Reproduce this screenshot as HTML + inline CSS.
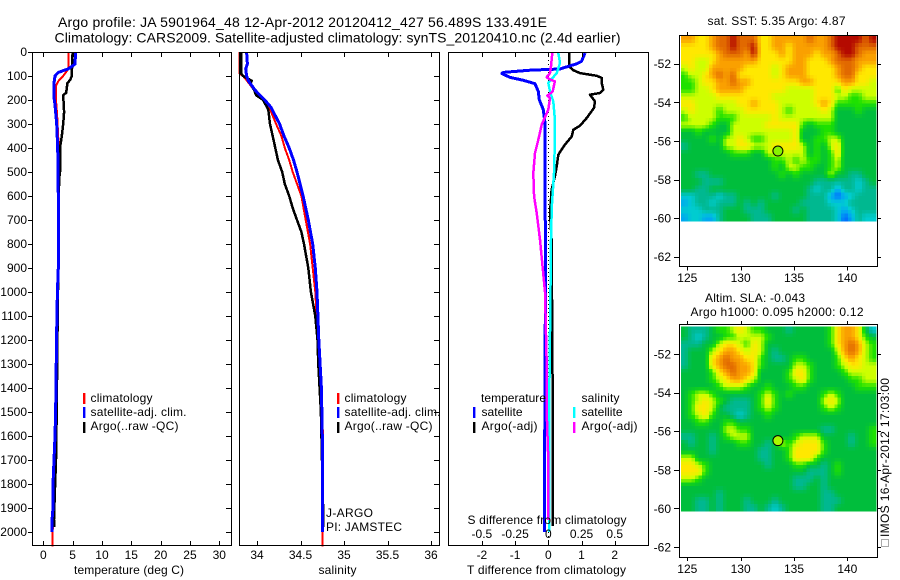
<!DOCTYPE html>
<html lang="en">
<head>
<meta charset="utf-8">
<title>Argo profile</title>
<style>
html,body{margin:0;padding:0;background:#fff;}
svg{display:block;}
text{font-family:"Liberation Sans",sans-serif;font-size:12px;fill:#000;}
.t14{font-size:14px;}
</style>
</head>
<body>
<svg id="chart" xmlns="http://www.w3.org/2000/svg" width="900" height="580" viewBox="0 0 900 580">
<text class="t14" x="58" y="27" textLength="489">Argo profile: JA 5901964_48 12-Apr-2012 20120412_427 56.489S 133.491E</text>
<text class="t14" x="54.5" y="42.5" textLength="566">Climatology: CARS2009. Satellite-adjusted climatology: synTS_20120410.nc (2.4d earlier)</text>
<g id="plots"></g>

<text x="74" y="574" textLength="110">temperature (deg C)</text>
<text x="318.5" y="574" textLength="38">salinity</text>
<text x="467" y="574" textLength="159">T difference from climatology</text>
<text x="467.5" y="524" textLength="159">S difference from climatology</text>

<g>
<rect x="83" y="393" width="2.4" height="11" fill="#f00"/>
<text x="90.5" y="402" textLength="62">climatology</text>
<rect x="83" y="407" width="2.4" height="11" fill="#00f"/>
<text x="90.5" y="416" textLength="96">satellite-adj. clim.</text>
<rect x="83" y="422" width="2.4" height="11" fill="#000"/>
<text x="90.5" y="430" textLength="88">Argo(..raw -QC)</text>
</g>
<g>
<rect x="337" y="393" width="2.4" height="11" fill="#f00"/>
<text x="344.5" y="402" textLength="62">climatology</text>
<rect x="337" y="407" width="2.4" height="11" fill="#00f"/>
<text x="344.5" y="416" textLength="96">satellite-adj. clim.</text>
<rect x="337" y="422" width="2.4" height="11" fill="#000"/>
<text x="344.5" y="430" textLength="88">Argo(..raw -QC)</text>
<text x="326" y="517" textLength="47">J-ARGO</text>
<text x="326" y="531" textLength="76">PI: JAMSTEC</text>
</g>
<g>
<text x="481" y="402" textLength="65">temperature</text>
<rect x="473" y="407" width="2.4" height="11" fill="#00f"/>
<text x="481.5" y="416" textLength="41">satellite</text>
<rect x="473" y="422" width="2.4" height="11" fill="#000"/>
<text x="481.5" y="430" textLength="56">Argo(-adj)</text>
<text x="581.5" y="402" textLength="38">salinity</text>
<rect x="573" y="407" width="2.4" height="11" fill="#0ff"/>
<text x="581.5" y="416" textLength="41">satellite</text>
<rect x="573" y="422" width="2.4" height="11" fill="#f0f"/>
<text x="581.5" y="430" textLength="56">Argo(-adj)</text>
</g>

<text x="707.5" y="25" textLength="138">sat. SST: 5.35  Argo: 4.87</text>
<text x="705" y="302" textLength="100">Altim. SLA: -0.043</text>
<text x="690.5" y="316" textLength="173">Argo h1000: 0.095 h2000: 0.12</text>
<rect x="881.5" y="539.5" width="7" height="7" fill="none" stroke="#555" stroke-width="1" stroke-dasharray="1 1" shape-rendering="crispEdges"/>
<text transform="translate(889,537) rotate(-90)" x="0" y="0" textLength="159">IMOS 16-Apr-2012 17:03:00</text>
</svg>

<script>
// ---- axis tick data ----
const depthTicks = [0,100,200,300,400,500,600,700,800,900,1000,1100,1200,1300,1400,1500,1600,1700,1800,1900,2000];
const tempTicks = [0,5,10,15,20,25,30];
const salTicks = [34,34.5,35,35.5,36];
const salTickLabels = ['34','34.5','35','35.5','36'];
const tDiffTicks = [-2,-1,0,1,2];
const sDiffTicks = [-0.5,-0.25,0,0.25,0.5];
const sDiffTickLabels = ['-0.5','-0.25','0','0.25','0.5'];
const lonTicks = [125,130,135,140];
const latTicks = [-52,-54,-56,-58,-60,-62];

// ---- temperature profiles ----
const tempClimDepth = [0,70,100,120,140,200,260,360,600,1000,1400,1700,2000,2060];
const tempClim = [4.27,4.27,3.4,2.6,2.16,2.16,2.35,2.56,2.6,2.45,2.15,1.85,1.6,1.6];
const tempSatDepth = [0,50,70,85,100,130,190,220,300,400,600,900,1000,1200,1400,1500,1600,1700,1800,1900,1950,2000];
const tempSat = [5.5,5.4,4.3,2.56,2.0,1.83,1.83,2.0,2.28,2.45,2.56,2.56,2.4,2.25,2.16,2.1,2.0,1.82,1.65,1.65,1.48,1.48];
const tempArgoDepth = [0,70,100,115,130,170,180,250,300,350,400,500,520,600,1000,1200,1500,1700,1850,1950,1980];
const tempArgo = [5.0,4.9,4.85,4.6,4.1,3.9,3.4,3.55,3.4,3.15,2.85,2.85,2.75,2.6,2.5,2.4,2.28,2.16,1.94,1.82,1.82];

// ---- salinity profiles ----
const salClimDepth = [0,90,100,120,160,200,230,300,350,400,450,500,600,700,800,900,1000,1200,1400,1600,1700,2000,2060];
const salClim = [33.80,33.80,33.84,33.885,33.97,34.07,34.14,34.22,34.28,34.32,34.37,34.41,34.51,34.56,34.61,34.64,34.67,34.70,34.73,34.76,34.76,34.755,34.75];
const salSatDepth = [0,50,70,100,120,160,200,230,300,350,400,450,500,600,700,800,900,1000,1200,1400,1600,2000];
const salSat = [33.88,33.89,33.87,33.88,33.90,33.98,34.09,34.16,34.26,34.31,34.37,34.42,34.46,34.53,34.59,34.64,34.67,34.69,34.71,34.74,34.75,34.75];
const salArgoDepth = [0,90,100,120,130,160,180,200,240,300,350,400,450,500,550,600,650,700,750,800,900,1000,1100,1200,1300,1400,1500,1900,1980];
const salArgo = [33.82,33.82,33.84,33.94,33.92,33.97,33.99,34.07,34.13,34.15,34.18,34.21,34.24,34.29,34.32,34.37,34.41,34.46,34.51,34.54,34.59,34.62,34.67,34.695,34.705,34.72,34.735,34.76,34.76];

// ---- difference profiles ----
const diffTSatDepth = [4,39,49,60,71,76,85,90,106,118,132,164,199,240,296,365,505,644,782,1400,1900,2000];
const diffTSat = [1.105,1.0,0.855,0.60,0.35,-0.55,-1.355,-1.40,-1.15,-0.75,-0.40,-0.30,-0.27,-0.15,-0.10,-0.10,-0.10,-0.10,-0.08,-0.10,-0.12,-0.12];
const diffTArgoDepth = [4,60,76,88,99,108,129,157,171,178,206,233,275,307,324,352,386,428,477,518,574,671,782,1400,1975];
const diffTArgo = [0.623,0.623,0.753,0.955,1.457,1.607,1.607,1.657,1.557,1.256,1.406,1.376,1.157,0.955,0.753,0.705,0.503,0.30,0.253,0.20,0.10,0.05,0.10,0.13,0.13];
const diffSSatDepth = [4,46,88,129,164,206,282,365,505,644,782,1400,2000];
const diffSSat = [0.075,0.088,0.063,0,0.013,0.038,0.05,0.05,0.043,0.026,0.02,0.008,0.008];
const diffSArgoDepth = [4,60,88,105,115,122,164,182,192,240,303,366,421,505,602,671,782,1000,1300,1500,1700,1950];
const diffSArgo = [0.03,0.02,0.013,-0.012,0.013,0.05,0.033,-0.007,0.013,0,-0.05,-0.075,-0.10,-0.113,-0.107,-0.087,-0.0625,-0.025,-0.012,-0.012,0,0];

// ---- map data: rows run north to south, columns west to east ----
const sstLevels = [
[8,8,7,7,8,9,9,10,9,9,9,7,7,8,8,8,8,8,9,8,8,9,10,10,10,10,9,10],
[7,7,7,7,8,9,9,10,9,9,10,7,7,8,8,7,8,8,8,8,8,9,10,10,10,9,9,9],
[7,7,7,7,7,8,9,9,9,8,10,7,7,7,8,7,8,8,8,7,8,8,9,10,10,9,8,8],
[7,7,6,6,7,8,8,8,8,8,8,7,7,7,7,7,8,8,7,7,7,8,9,9,9,8,8,8],
[6,7,6,6,8,8,8,8,8,7,7,7,7,6,7,8,8,8,7,7,7,7,8,9,9,8,7,7],
[5,6,6,7,8,9,8,9,7,7,7,7,7,6,7,8,8,8,7,7,7,7,8,9,9,7,7,7],
[5,5,6,7,7,8,8,9,8,8,7,7,7,7,7,7,7,8,8,7,7,7,7,8,8,7,7,6],
[5,5,6,6,7,8,8,8,8,7,7,7,7,7,7,6,6,6,6,7,7,7,5,7,6,6,6,6],
[6,6,6,6,6,7,7,7,7,7,7,7,7,6,6,6,6,6,6,7,7,7,6,6,5,5,6,6],
[7,7,6,6,6,6,6,6,7,7,8,7,7,7,6,6,6,6,6,7,8,7,5,5,5,5,5,5],
[6,7,6,6,6,5,6,6,6,7,7,7,7,7,6,5,6,6,6,6,7,6,4,4,4,5,4,4],
[5,6,6,6,6,5,5,5,6,6,6,6,6,7,6,6,6,6,6,6,6,6,4,4,4,4,4,4],
[6,6,6,6,5,4,4,6,6,6,6,6,7,7,7,7,7,5,4,5,5,5,4,4,4,4,4,4],
[4,4,5,4,4,4,4,6,6,6,6,6,6,6,6,6,7,4,4,4,5,5,4,4,4,4,4,4],
[4,4,4,4,5,4,6,6,7,6,5,5,6,6,6,6,7,4,4,5,5,6,6,4,4,4,4,4],
[3,4,4,4,4,4,6,6,7,7,6,6,6,7,7,7,7,6,4,5,4,6,7,4,4,4,4,4],
[4,4,4,4,4,4,4,5,5,5,4,4,6,6,6,6,6,6,4,5,4,5,7,4,4,4,4,4],
[4,4,4,4,4,4,4,4,4,4,4,4,4,5,5,6,5,6,5,5,4,5,6,4,4,4,4,4],
[4,4,4,4,4,4,4,4,4,4,4,4,4,5,4,6,6,5,5,4,4,5,6,4,4,4,4,4],
[4,4,3,3,4,4,4,4,4,4,4,4,4,4,5,4,5,4,4,4,4,6,4,4,3,3,4,4],
[4,4,4,3,3,3,4,4,4,4,4,4,4,4,4,4,4,4,4,3,3,3,3,3,3,2,3,4],
[4,4,3,3,4,4,4,4,4,4,4,4,4,4,4,4,4,4,3,2,3,3,1,3,3,2,3,3],
[2,2,3,3,3,2,3,3,4,4,4,4,4,3,4,4,4,4,3,3,3,1,0,1,2,3,3,3],
[1,2,3,3,2,3,3,3,4,3,4,3,4,4,4,4,4,3,3,3,3,2,2,2,3,3,3,3],
[2,2,2,3,3,3,4,4,4,3,3,3,4,4,4,4,3,4,3,3,3,3,2,1,2,3,3,3],
[1,2,2,1,1,3,4,4,4,4,3,3,3,4,4,4,4,4,3,3,3,3,2,0,1,3,2,2]
];
const slaLevels = [
[4,3,3,3,4,5,5,6,7,6,5,5,4,4,4,3,4,4,4,4,4,5,7,8,8,7,4,2],
[4,3,2,3,4,4,5,5,6,6,6,6,5,4,4,4,4,4,4,4,4,5,7,8,8,7,5,4],
[3,3,3,4,4,6,7,7,6,5,7,6,4,4,4,4,4,4,4,4,4,5,7,8,9,8,6,5],
[3,4,4,4,6,7,8,8,7,6,7,6,4,3,4,4,4,4,4,4,4,4,6,8,9,8,6,5],
[3,4,4,4,7,8,9,8,8,7,7,5,4,3,3,4,5,5,4,4,4,4,5,7,8,7,6,5],
[3,4,4,4,7,8,9,9,8,8,7,5,4,4,4,4,6,6,5,4,4,4,5,6,7,7,6,6],
[4,4,4,4,5,7,8,9,8,8,7,4,4,4,4,5,7,7,5,4,4,4,4,5,6,6,6,6],
[4,4,4,4,5,6,7,8,8,7,6,4,4,4,4,5,6,7,5,4,4,4,4,4,5,5,6,6],
[4,4,4,4,4,5,6,6,6,5,4,4,5,4,4,4,5,5,4,4,4,4,4,4,4,5,5,5],
[4,5,6,6,5,4,4,4,4,4,4,5,6,5,4,5,4,4,4,4,5,6,5,4,4,4,4,4],
[4,5,6,7,6,5,4,3,3,3,4,5,7,5,4,4,4,4,4,4,6,7,6,4,4,4,4,4],
[4,5,7,7,6,4,3,3,3,3,4,5,6,5,4,4,4,4,4,4,5,6,5,4,4,4,4,4],
[4,5,6,7,5,4,4,3,2,3,4,4,5,4,4,4,4,4,4,4,4,4,4,4,4,4,4,4],
[4,4,5,5,4,4,5,5,4,4,4,4,4,4,4,4,4,4,4,4,4,4,4,4,4,4,4,4],
[4,4,4,4,4,4,6,6,5,5,4,4,4,4,4,4,4,4,4,4,3,3,4,4,4,4,4,5],
[3,3,4,4,3,4,5,6,6,6,4,4,4,4,4,4,5,6,6,6,4,4,4,4,3,4,4,5],
[4,3,4,4,3,4,4,4,5,5,4,4,3,4,6,5,6,7,7,7,5,4,4,4,3,4,4,5],
[4,4,4,4,3,4,4,4,4,4,4,3,3,4,4,5,7,7,7,7,5,4,4,4,4,4,4,4],
[6,6,4,4,4,4,4,4,4,4,4,3,3,4,4,5,7,7,7,5,4,4,4,4,4,4,4,4],
[7,7,6,5,4,4,4,4,4,4,4,4,3,4,4,4,5,5,4,4,3,4,5,4,4,4,4,4],
[7,7,7,5,4,4,4,4,4,4,4,4,4,4,4,4,4,4,3,3,3,4,5,4,4,4,4,4],
[6,6,5,4,4,4,4,4,4,4,4,4,4,4,4,4,3,3,3,4,3,4,4,4,4,4,4,4],
[4,4,4,4,4,4,4,4,4,4,4,4,4,4,4,4,3,3,4,4,3,4,4,4,4,4,4,4],
[4,4,4,4,4,3,4,4,4,4,4,4,4,4,4,4,4,4,4,4,3,3,4,4,4,4,4,4],
[4,4,3,3,4,3,4,4,4,3,4,4,4,3,4,4,4,4,4,4,3,3,3,4,4,4,4,4],
[4,4,3,3,4,3,4,4,4,3,3,4,3,2,3,4,4,4,4,4,3,3,4,4,4,4,4,4]
];
const profileLon = 133.491;
const profileLat = -56.489;
const sstMarkerLevel = 5.6;
const slaMarkerLevel = 5.8;

const NS = 'http://www.w3.org/2000/svg';
const root = document.getElementById('plots');
function add(tag, attrs, text) {
  const el = document.createElementNS(NS, tag);
  for (const k in attrs) el.setAttribute(k, attrs[k]);
  if (text !== undefined) el.textContent = text;
  root.appendChild(el);
  return el;
}

// ---- axis functions ----
const yDepth = d => 52 + 0.24 * d;
const xTemp = v => 43.3 + 5.867 * v;
const xSal = v => 257 + 87 * (v - 34);
const xDiffT = v => 548.3 + 33.2 * v;
const xDiffS = v => 548.3 + 132.8 * v;
const xLon = v => 687.3 + 10.67 * (v - 125);
const yLat1 = v => 63.7 + 19.3 * (-52 - v);
const yLat2 = v => 354 + 19.3 * (-52 - v);

function colourFor(level) {
  const stops = [[0,96,255],[0,168,240],[0,204,208],[0,184,144],[0,190,60],[30,225,0],[205,255,0],[255,232,0],[250,160,0],[225,105,0],[180,10,0]];
  const l = Math.max(0, Math.min(10, level));
  const i = Math.min(9, Math.floor(l));
  const f = l - i;
  const c = [0,1,2].map(k => Math.round(stops[i][k] + (stops[i + 1][k] - stops[i][k]) * f));
  return 'rgb(' + c.join(',') + ')';
}

function frame(x, y, w, h, name) {
  const el = add('rect', {x: x, y: y, width: w, height: h, fill: 'none', stroke: '#000', 'stroke-width': 1, 'shape-rendering': 'crispEdges'});
  
  
}
function tick(x1, y1, x2, y2, name) {
  const el = add('line', {x1: x1, y1: y1, x2: x2, y2: y2, stroke: '#000', 'stroke-width': 1, 'shape-rendering': 'crispEdges'});
  
  
}
function label(x, y, anchor, str, name) {
  const el = add('text', {x: x, y: y, 'text-anchor': anchor}, str);
  
  
}
function profile(xs, ds, xFn, colour, width, name) {
  const pts = xs.map((v, i) => xFn(v).toFixed(1) + ',' + yDepth(ds[i]).toFixed(1)).join(' ');
  const el = add('polyline', {points: pts, fill: 'none', stroke: colour, 'stroke-width': width, 'stroke-linejoin': 'round', 'shape-rendering': 'crispEdges'});
  
  
}
// Bilinear read of a grid value at fractional row/column, measured from cell centres
function sample(levels, r, c) {
  const rows = levels.length, cols = levels[0].length;
  const rr = Math.max(0, Math.min(rows - 1, r)), cc = Math.max(0, Math.min(cols - 1, c));
  const r0 = Math.floor(rr), c0 = Math.floor(cc);
  const r1 = Math.min(rows - 1, r0 + 1), c1 = Math.min(cols - 1, c0 + 1);
  const fr = rr - r0, fc = cc - c0;
  return (levels[r0][c0] * (1 - fc) + levels[r0][c1] * fc) * (1 - fr) +
         (levels[r1][c0] * (1 - fc) + levels[r1][c1] * fc) * fr;
}
function heatmap(levels, yFn, name) {
  const sub = 2;
  const rows = levels.length * sub, cols = levels[0].length * sub;
  const lonW = 124.41, lonStep = (142.69 - 124.41) / cols;
  const latN = -50.57, latStep = (60.14 - 50.57) / rows;
  for (let r = 0; r < rows; r++) {
    for (let c = 0; c < cols; c++) {
      const v = sample(levels, (r + 0.5) / sub - 0.5, (c + 0.5) / sub - 0.5);
      const x0 = xLon(lonW + c * lonStep), x1 = xLon(lonW + (c + 1) * lonStep);
      const y0 = yFn(latN - r * latStep), y1 = yFn(latN - (r + 1) * latStep);
      const el = add('rect', {x: x0.toFixed(2), y: y0.toFixed(2), width: (x1 - x0 + 0.5).toFixed(2), height: (y1 - y0 + 0.5).toFixed(2), fill: colourFor(v), 'shape-rendering': 'crispEdges'});
      
      
    }
  }
}

// ---- profile panel series ----
profile(tempClim, tempClimDepth, xTemp, '#f00', 2, 'temperature-climatology-line');
profile(tempArgo, tempArgoDepth, xTemp, '#000', 2.5, 'temperature-argo-line');
profile(tempSat, tempSatDepth, xTemp, '#00f', 3, 'temperature-satellite-line');

profile(salClim, salClimDepth, xSal, '#f00', 2, 'salinity-climatology-line');
profile(salArgo, salArgoDepth, xSal, '#000', 2.5, 'salinity-argo-line');
profile(salSat, salSatDepth, xSal, '#00f', 3, 'salinity-satellite-line');

const zeroLine = add('line', {x1: xDiffT(0), y1: 52, x2: xDiffT(0), y2: 545, stroke: '#000', 'stroke-width': 1, 'stroke-dasharray': '1 3', 'shape-rendering': 'crispEdges'});


profile(diffTArgo, diffTArgoDepth, xDiffT, '#000', 2.5, 'diff-t-argo-line');
profile(diffTSat, diffTSatDepth, xDiffT, '#00f', 3, 'diff-t-satellite-line');
profile(diffSSat, diffSSatDepth, xDiffS, '#0ff', 2.5, 'diff-s-satellite-line');
profile(diffSArgo, diffSArgoDepth, xDiffS, '#f0f', 2.5, 'diff-s-argo-line');

// ---- maps ----
heatmap(sstLevels, yLat1, 'sst-cell');
heatmap(slaLevels, yLat2, 'sla-cell');

// ---- frames ----
frame(32.5, 52.5, 199, 493, 'temperature-panel-frame');
frame(239.5, 52.5, 200, 493, 'salinity-panel-frame');
frame(448.5, 52.5, 200, 493, 'difference-panel-frame');
frame(679.5, 35.5, 198, 231, 'sst-map-frame');
frame(679.5, 324.5, 198, 233, 'sla-map-frame');

// ---- depth ticks ----
depthTicks.forEach(d => {
  const y = Math.round(yDepth(d)) + 0.5;
  tick(28, y, 32.5, y, 'depth-tick-left');
  tick(226, y, 231.5, y, 'depth-tick-right');
  tick(434, y, 439.5, y, 'salinity-depth-tick-right');
  label(27, yDepth(d) + 4, 'end', String(d), 'depth-tick-label');
});
// ---- x ticks ----
tempTicks.forEach(v => {
  const x = Math.round(xTemp(v)) + 0.5;
  tick(x, 52.5, x, 57, 'temperature-tick-top');
  tick(x, 541, x, 545.5, 'temperature-tick-bottom');
  label(xTemp(v), 559, 'middle', String(v), 'temperature-tick-label');
});
salTicks.forEach((v, i) => {
  const x = Math.round(xSal(v)) + 0.5;
  tick(x, 52.5, x, 57, 'salinity-tick-top');
  tick(x, 541, x, 545.5, 'salinity-tick-bottom');
  label(xSal(v), 559, 'middle', salTickLabels[i], 'salinity-tick-label');
});
tDiffTicks.forEach(v => {
  const x = Math.round(xDiffT(v)) + 0.5;
  tick(x, 52.5, x, 57, 'difference-tick-top');
  tick(x, 541, x, 545.5, 'difference-tick-bottom');
  label(xDiffT(v), 559, 'middle', String(v), 't-difference-tick-label');
});
sDiffTicks.forEach((v, i) => {
  label(xDiffS(v), 538, 'middle', sDiffTickLabels[i], 's-difference-tick-label');
});

// ---- map ticks ----
lonTicks.forEach(v => {
  const x = Math.round(xLon(v)) + 0.5;
  tick(x, 32, x, 35.5, 'sst-lon-tick-top');
  tick(x, 267, x, 270.5, 'sst-lon-tick-bottom');
  label(xLon(v), 282, 'middle', String(v), 'sst-lon-label');
  tick(x, 321, x, 324.5, 'sla-lon-tick-top');
  tick(x, 557.5, x, 561, 'sla-lon-tick-bottom');
  label(xLon(v), 573, 'middle', String(v), 'sla-lon-label');
});
latTicks.forEach(v => {
  const y1 = Math.round(yLat1(v)) + 0.5;
  tick(674, y1, 679.5, y1, 'sst-lat-tick-left');
  tick(877.5, y1, 881, y1, 'sst-lat-tick-right');
  label(671, yLat1(v) + 4.5, 'end', String(v), 'sst-lat-label');
  const y2 = Math.round(yLat2(v)) + 0.5;
  tick(674, y2, 679.5, y2, 'sla-lat-tick-left');
  tick(877.5, y2, 881, y2, 'sla-lat-tick-right');
  label(671, yLat2(v) + 4.5, 'end', String(v), 'sla-lat-label');
});

// ---- Argo markers ----
const sstMarker = add('circle', {cx: xLon(profileLon), cy: yLat1(profileLat) + 0.7, r: 5, fill: colourFor(sstMarkerLevel), stroke: '#000', 'stroke-width': 1});


const slaMarker = add('circle', {cx: xLon(profileLon), cy: yLat2(profileLat), r: 5, fill: colourFor(slaMarkerLevel), stroke: '#000', 'stroke-width': 1});


</script>
</body>
</html>
